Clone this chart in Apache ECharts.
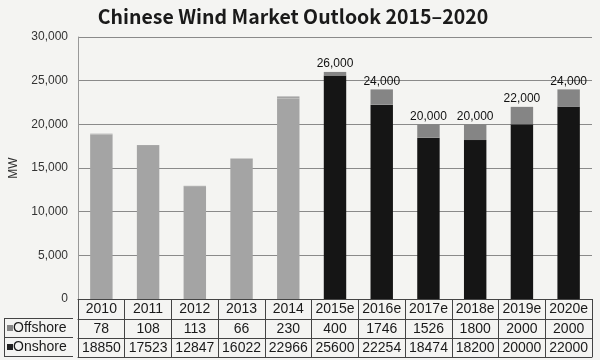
<!DOCTYPE html>
<html>
<head>
<meta charset="utf-8">
<script src="https://cdn.jsdelivr.net/npm/echarts@6/dist/echarts.min.js"></script>
<style>
html,body{margin:0;padding:0;background:#f4f4f2;}
#chart{width:600px;height:360px;}
</style>
</head>
<body>
<div id="chart"></div>
<script>
var categories = ['2010','2011','2012','2013','2014','2015e','2016e','2017e','2018e','2019e','2020e'];
var offshore = [78,108,113,66,230,400,1746,1526,1800,2000,2000];
var onshore = [18850,17523,12847,16022,22966,25600,22254,18474,18200,20000,22000];
var totalLabels = ['','','','','','26,000','24,000','20,000','20,000','22,000','24,000'];
var yTicks = [0,5000,10000,15000,20000,25000,30000];
var forecastStart = 5;

var chart = echarts.init(document.getElementById('chart'), null, {renderer:'canvas'});
var tableFont = 'Liberation Sans, Arial, sans-serif';
function fmt(v){ return String(v).replace(/\B(?=(\d{3})+(?!\d))/g, ','); }

var option = {
  backgroundColor: '#f4f4f2',
  animation: false,
  title: {
    text: 'Chinese Wind Market Outlook 2015\u20132020',
    left: 288, top: 2, textAlign: 'center',
    textStyle: {fontFamily: 'Noto Sans CJK JP', fontWeight: 'bold', fontSize: 19.5, color: '#1a1a1a'}
  },
  grid: {left: 73, right: 8, top: 37, bottom: 61},
  yAxis: {
    type: 'value', min: yTicks[0], max: yTicks[yTicks.length-1], interval: 5000,
    name: 'MW', nameLocation: 'middle', nameGap: 58, nameRotate: 90,
    nameTextStyle: {fontFamily: tableFont, fontSize: 12, color: '#333'},
    axisLine: {show: true, lineStyle: {color: '#999', width: 1}},
    axisTick: {show: false},
    axisLabel: {formatter: function(v){return fmt(v);}, fontFamily: tableFont, fontSize: 12, color: '#333', margin: 10},
    splitLine: {show: true, lineStyle: {color: '#8a8a8a', width: 1, type: 'solid'}}
  },
  xAxis: [
    {
      type: 'category', data: categories, position: 'bottom', offset: 0,
      axisLine: {show: true, lineStyle: {color: '#444', width: 1}},
      axisTick: {show: true, interval: 0, length: 58, lineStyle: {color: '#444', width: 1}},
      axisLabel: {interval: 0, margin: 3, fontFamily: tableFont, fontSize: 14, color: '#1a1a1a'}
    },
    {
      type: 'category', data: categories, position: 'bottom', offset: 20,
      axisLine: {show: true, lineStyle: {color: '#444', width: 1}},
      axisTick: {show: false},
      axisLabel: {interval: 0, margin: 3, fontFamily: tableFont, fontSize: 14, color: '#1a1a1a',
        formatter: function(v, i){ return String(offshore[i]); }}
    },
    {
      type: 'category', data: categories, position: 'bottom', offset: 39,
      axisLine: {show: true, lineStyle: {color: '#444', width: 1}},
      axisTick: {show: false},
      axisLabel: {interval: 0, margin: 3, fontFamily: tableFont, fontSize: 14, color: '#1a1a1a',
        formatter: function(v, i){ return String(onshore[i]); }}
    },
    {
      type: 'category', data: categories, position: 'bottom', offset: 58,
      axisLine: {show: true, lineStyle: {color: '#444', width: 1}},
      axisTick: {show: false},
      axisLabel: {show: false}
    }
  ],
  series: [
    {
      name: 'Onshore', type: 'bar', stack: 'total', xAxisIndex: 0, barWidth: '48%',
      data: onshore,
      itemStyle: {color: function(p){ return p.dataIndex < forecastStart ? '#a4a4a4' : '#151515'; }}
    },
    {
      name: 'Offshore', type: 'bar', stack: 'total', xAxisIndex: 0, barWidth: '48%',
      data: offshore,
      itemStyle: {color: function(p){ return p.dataIndex < forecastStart ? '#a4a4a4' : '#858585'; }},
      label: {
        show: true, position: 'top', distance: 2,
        fontFamily: tableFont, fontSize: 12, fontWeight: 'normal', color: '#111',
        formatter: function(p){ return totalLabels[p.dataIndex]; }
      }
    }
  ],
  graphic: [
    {type: 'line', shape: {x1: 4, y1: 318.5, x2: 73, y2: 318.5}, style: {stroke: '#444', lineWidth: 1}},
    {type: 'line', shape: {x1: 4, y1: 337.5, x2: 73, y2: 337.5}, style: {stroke: '#444', lineWidth: 1}},
    {type: 'line', shape: {x1: 4, y1: 356.5, x2: 73, y2: 356.5}, style: {stroke: '#444', lineWidth: 1}},
    {type: 'line', shape: {x1: 4.5, y1: 318, x2: 4.5, y2: 357}, style: {stroke: '#444', lineWidth: 1}},
    {type: 'rect', shape: {x: 7, y: 325, width: 6, height: 6}, style: {fill: '#858585'}},
    {type: 'text', x: 13, y: 328, style: {text: 'Offshore', fontFamily: tableFont, fontSize: 14, fill: '#1a1a1a', textVerticalAlign: 'middle'}},
    {type: 'rect', shape: {x: 7, y: 344, width: 6, height: 6}, style: {fill: '#222'}},
    {type: 'text', x: 13, y: 347, style: {text: 'Onshore', fontFamily: tableFont, fontSize: 14, fill: '#1a1a1a', textVerticalAlign: 'middle'}}
  ]
};
chart.setOption(option);
</script>
</body>
</html>
